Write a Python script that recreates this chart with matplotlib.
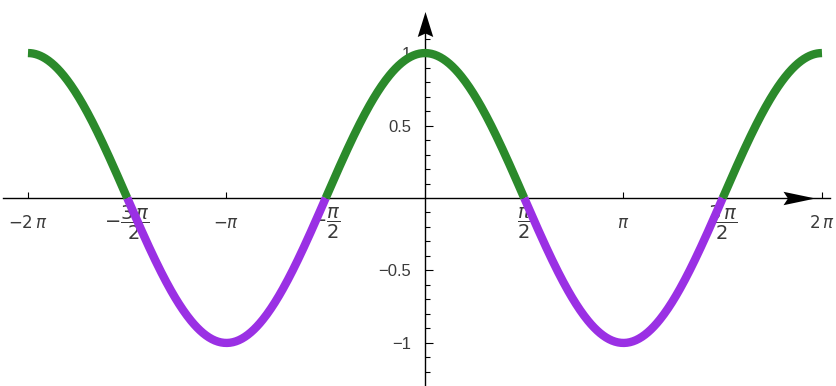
import numpy as np
import matplotlib
matplotlib.use("Agg")
import matplotlib.pyplot as plt
from matplotlib.ticker import FixedLocator
from matplotlib.path import Path
from matplotlib.markers import MarkerStyle
from matplotlib.transforms import Affine2D

plt.rcParams["mathtext.fontset"] = "dejavusans"

# Plotted function and the pieces it is split into (sign of cos x)
func = np.cos
breaks = [-2 * np.pi, -1.5 * np.pi, -0.5 * np.pi, 0.5 * np.pi, 1.5 * np.pi, 2 * np.pi]
piece_kind = ["pos", "neg", "pos", "neg", "pos"]

x_ticks = [-2 * np.pi, -1.5 * np.pi, -np.pi, -0.5 * np.pi,
           0.5 * np.pi, np.pi, 1.5 * np.pi, 2 * np.pi]
x_tick_labels = [r"$-2\,\pi$", r"$-\dfrac{3\,\pi}{2}$", r"$-\pi$", r"$-\dfrac{\pi}{2}$",
                 r"$\dfrac{\pi}{2}$", r"$\pi$", r"$\dfrac{3\,\pi}{2}$", r"$2\,\pi$"]
y_ticks = [-1, -0.5, 0.5, 1]
y_tick_labels = ["\u22121", "\u22120.5", "0.5", "1"]
y_minor_ticks = [round(v, 1) for v in np.arange(-1.2, 1.15, 0.1)
                 if round(v, 1) not in (-1.0, -0.5, 0.0, 0.5, 1.0)]

colors = {"pos": "#2b8a2b", "neg": "#9a30e4"}

fig = plt.figure(figsize=(8.36, 3.86), dpi=100)
ax = fig.add_axes([0, 0, 1, 1])
ax.set_xlim(-6.726, 6.505)
ax.set_ylim(-1.297, 1.366)

for a, b, kind in zip(breaks[:-1], breaks[1:], piece_kind):
    xs = np.linspace(a, b, 200)
    ax.plot(xs, func(xs), color=colors[kind], lw=6, solid_capstyle="butt", zorder=3)

# axes through the origin
for side in ("top", "right"):
    ax.spines[side].set_visible(False)
ax.spines["bottom"].set_position(("data", 0))
ax.spines["left"].set_position(("data", 0))
ax.spines["bottom"].set_bounds(-6.68, 6.41)
ax.spines["left"].set_bounds(-1.297, 1.2)
for s in ("bottom", "left"):
    ax.spines[s].set_linewidth(1.0)
    ax.spines[s].set_zorder(2)

ax.xaxis.set_major_locator(FixedLocator(x_ticks))
ax.set_xticklabels(x_tick_labels)
ax.yaxis.set_major_locator(FixedLocator(y_ticks))
ax.set_yticklabels(y_tick_labels)
ax.yaxis.set_minor_locator(FixedLocator(y_minor_ticks))

ax.tick_params(axis="x", which="major", direction="in", length=4, width=0.8,
               pad=18, labelsize=12, labelcolor="#3a3a3a")
ax.tick_params(axis="y", which="major", direction="in", length=6, width=0.8,
               pad=10, labelsize=12, labelcolor="#3a3a3a")
ax.tick_params(axis="y", which="minor", direction="in", length=3.5, width=0.8)
for lab in ax.get_xticklabels():
    lab.set_verticalalignment("center")
    if "dfrac" in lab.get_text():
        lab.set_fontsize(14)
for lab in ax.get_yticklabels():
    lab.set_fontfamily("Liberation Sans")

# notched arrow heads at the ends of the axes
up_path = Path([(0, 1), (0.62, -1), (0, -0.72), (-0.62, -1), (0, 1)],
               [Path.MOVETO, Path.LINETO, Path.LINETO, Path.LINETO, Path.CLOSEPOLY])
right_path = Path([(0, 1), (0.42, -1), (0, -0.72), (-0.42, -1), (0, 1)],
                  [Path.MOVETO, Path.LINETO, Path.LINETO, Path.LINETO, Path.CLOSEPOLY])
up_head = MarkerStyle(up_path)
right_head = MarkerStyle(right_path, transform=Affine2D().rotate_deg(-90))
ax.plot([0], [1.197], marker=up_head, ms=18, color="black", mew=0, zorder=4)
ax.plot([5.92], [0], marker=right_head, ms=23, color="black", mew=0, zorder=4)

fig.savefig("out.png", dpi=100, facecolor="white")
